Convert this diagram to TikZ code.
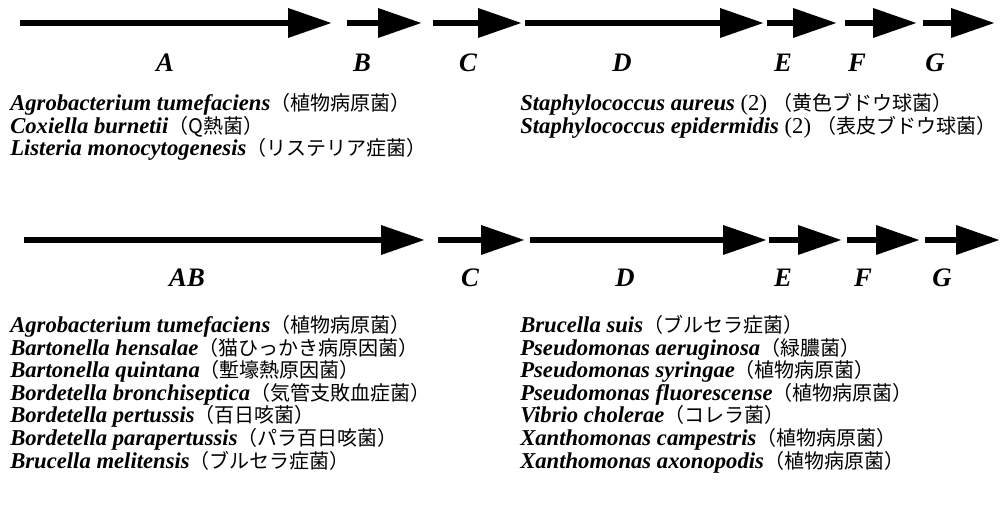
\documentclass[tikz,border=0pt]{standalone}
\usepackage{fontspec}
\setmainfont{Liberation Serif}
\newfontfamily\jpfont{Noto Sans CJK JP}
\usepackage{tikz}
\usetikzlibrary{arrows.meta,positioning}
\newcommand{\jp}[1]{{\jpfont\fontsize{15}{16.9}\selectfont #1}}
\newcommand{\bact}[2]{\textbf{\textit{#1}}\jp{（#2）}}

\begin{document}
\begin{tikzpicture}[
  x=0.75pt, y=-0.75pt,
  gene/.style={line width=5pt, -{Triangle[length=33pt, width=21pt]}},
  genelbl/.style={anchor=base, inner sep=0, font=\fontsize{20}{24}\selectfont\bfseries\itshape},
  species/.style={anchor=base west, align=left, inner sep=0, font=\fontsize{17}{16.9}\selectfont},
]
  \useasboundingbox (0,0) rectangle (1001,506);

  % Row 0: upper gene cluster
  \coordinate (tA0) at (20,23);   \coordinate (tA1) at (332,23);
  \coordinate (tB0) at (347,23);  \coordinate (tB1) at (422,23);
  \coordinate (tC0) at (433,23);  \coordinate (tC1) at (522,23);
  \coordinate (tD0) at (525,23);  \coordinate (tD1) at (764,23);
  \coordinate (tE0) at (767,23);  \coordinate (tE1) at (837,23);
  \coordinate (tF0) at (845,23);  \coordinate (tF1) at (917,23);
  \coordinate (tG0) at (923,23);  \coordinate (tG1) at (995,23);

  \draw[gene] (tA0) -- (tA1);
  \draw[gene] (tB0) -- (tB1);
  \draw[gene] (tC0) -- (tC1);
  \draw[gene] (tD0) -- (tD1);
  \draw[gene] (tE0) -- (tE1);
  \draw[gene] (tF0) -- (tF1);
  \draw[gene] (tG0) -- (tG1);

  \node[genelbl] (tlA) at (165,72) {A};
  \node[genelbl] (tlB) at (362,72) {B};
  \node[genelbl] (tlC) at (468,72) {C};
  \node[genelbl] (tlD) at (622,72) {D};
  \node[genelbl] (tlE) at (783,72) {E};
  \node[genelbl] (tlF) at (857,72) {F};
  \node[genelbl] (tlG) at (935,72) {G};

  % Row 0: species lists (anchored on the last line)
  \node[species] (tleft) at (10,156) {\bact{Agrobacterium tumefaciens}{植物病原菌}\\
    \bact{Coxiella burnetii}{Q熱菌}\\
    \bact{Listeria monocytogenesis}{リステリア症菌}};
  \node[species] (tright) at (520,133.5) {\textbf{\textit{Staphylococcus aureus}} (2) \jp{（黄色ブドウ球菌）}\\
    \textbf{\textit{Staphylococcus epidermidis}} (2) \jp{（表皮ブドウ球菌）}};

  % Row 1: lower gene cluster
  \coordinate (bAB0) at (24,240); \coordinate (bAB1) at (425,240);
  \coordinate (bC0) at (438,240); \coordinate (bC1) at (525,240);
  \coordinate (bD0) at (530,240); \coordinate (bD1) at (767,240);
  \coordinate (bE0) at (769,240); \coordinate (bE1) at (842,240);
  \coordinate (bF0) at (847,240); \coordinate (bF1) at (920,240);
  \coordinate (bG0) at (925,240); \coordinate (bG1) at (1000,240);

  \draw[gene] (bAB0) -- (bAB1);
  \draw[gene] (bC0) -- (bC1);
  \draw[gene] (bD0) -- (bD1);
  \draw[gene] (bE0) -- (bE1);
  \draw[gene] (bF0) -- (bF1);
  \draw[gene] (bG0) -- (bG1);

  \node[genelbl] (blAB) at (187,287) {AB};
  \node[genelbl] (blC) at (470,287) {C};
  \node[genelbl] (blD) at (625,287) {D};
  \node[genelbl] (blE) at (783,287) {E};
  \node[genelbl] (blF) at (863,287) {F};
  \node[genelbl] (blG) at (942,287) {G};

  % Row 1: species lists (anchored on the last line)
  \node[species] (bleft) at (10,468) {\bact{Agrobacterium tumefaciens}{植物病原菌}\\
    \bact{Bartonella hensalae}{猫ひっかき病原因菌}\\
    \bact{Bartonella quintana}{塹壕熱原因菌}\\
    \bact{Bordetella bronchiseptica}{気管支敗血症菌}\\
    \bact{Bordetella pertussis}{百日咳菌}\\
    \bact{Bordetella parapertussis}{パラ百日咳菌}\\
    \bact{Brucella melitensis}{ブルセラ症菌}};
  \node[species] (bright) at (520,468) {\bact{Brucella suis}{ブルセラ症菌}\\
    \bact{Pseudomonas aeruginosa}{緑膿菌}\\
    \bact{Pseudomonas syringae}{植物病原菌}\\
    \bact{Pseudomonas fluorescense}{植物病原菌}\\
    \bact{Vibrio cholerae}{コレラ菌}\\
    \bact{Xanthomonas campestris}{植物病原菌}\\
    \bact{Xanthomonas axonopodis}{植物病原菌}};
\end{tikzpicture}
\end{document}
